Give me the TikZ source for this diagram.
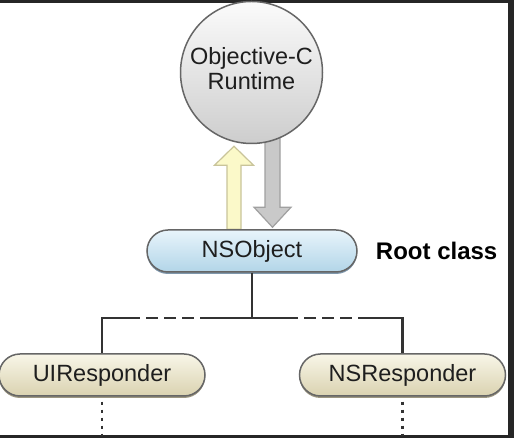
\documentclass[tikz,border=0pt]{standalone}
\usepackage{fontspec}
\setmainfont{Liberation Sans}
\usetikzlibrary{calc}
\usetikzlibrary{positioning, shapes.misc, backgrounds, shadows}

\definecolor{inkgray}{HTML}{1E1E1E}
\definecolor{edgegray}{HTML}{666666}
\definecolor{linkgray}{HTML}{333333}
\definecolor{skytop}{HTML}{E8F4FB}
\definecolor{skybottom}{HTML}{B2D5E8}
\definecolor{skyshadow}{HTML}{7E97AC}
\definecolor{sandtop}{HTML}{F8F6E8}
\definecolor{sandbottom}{HTML}{DAD2B0}
\definecolor{sandshadow}{HTML}{9C9680}
\definecolor{balltop}{HTML}{FBFBFB}
\definecolor{ballmid}{HTML}{ECECEC}
\definecolor{ballbottom}{HTML}{CDCDCD}
\definecolor{lemonfill}{HTML}{FBF9C9}
\definecolor{lemonedge}{HTML}{C9C49A}
\definecolor{stonefill}{HTML}{C9C9C9}
\definecolor{stoneedge}{HTML}{A0A0A0}

\begin{document}
\begin{tikzpicture}[
  x=1pt, y=1pt,
  font=\fontsize{23.5}{25}\selectfont,
  runtime/.style={draw=edgegray, line width=1.5pt, circle, minimum size=142pt, inner sep=0pt, align=center, text=inkgray, top color=balltop, middle color=ballmid, bottom color=ballbottom},
  classbox/.style={draw=edgegray, line width=1.5pt, rounded rectangle, minimum height=42pt, inner sep=0pt, text=inkgray},
  link/.style={draw=linkgray, line width=2.2pt},
  gapline/.style={draw=linkgray, line width=2.2pt, dash pattern=on 12pt off 6pt},
  trail/.style={draw=linkgray, line width=2.5pt, dash pattern=on 3pt off 5pt},
  uparrow/.style={draw=lemonedge, fill=lemonfill, line width=1.2pt, line join=miter},
  downarrow/.style={draw=stoneedge, fill=stonefill, line width=1.2pt, line join=miter}
]
\useasboundingbox (0,0) rectangle (514,438);

\node[runtime] (runtime) at (251.5,365.5) {\raisebox{-4pt}{\begin{tabular}{@{}c@{}}Objective-C\\Runtime\end{tabular}}};
\node[classbox, minimum width=210pt, top color=skytop, bottom color=skybottom, drop shadow={shadow xshift=0pt, shadow yshift=-2pt, fill=skyshadow, opacity=1}] (nsobject) at (252,187) {NSObject};
\node[right=18pt of nsobject, inner sep=0pt, font=\fontsize{24}{25}\selectfont\bfseries, text=black] (rootlabel) {Root class};
\node[classbox, minimum width=206pt, top color=sandtop, bottom color=sandbottom, drop shadow={shadow xshift=0pt, shadow yshift=-2pt, fill=sandshadow, opacity=1}] (uiresponder) at (102,63) {UIResponder};
\node[classbox, minimum width=206pt, right=93pt of uiresponder, top color=sandtop, bottom color=sandbottom, drop shadow={shadow xshift=0pt, shadow yshift=-2pt, fill=sandshadow, opacity=1}] (nsresponder) {NSResponder};

\begin{scope}[on background layer]
  \fill[black!85] (0,0) rectangle (514,438);
  \fill[white] (0,3) rectangle (508,435);
  % messages between runtime and root class
  \draw[uparrow] ($(nsobject.north)+(-25,0)$) -- ++(0,64) -- ++(-12.5,0) -- ++(19.5,19) -- ++(19.5,-19) -- ++(-12.5,0) -- ++(0,-64) -- cycle;
  \draw[downarrow] ($(nsobject.north)+(13,92)$) -- ++(0,-70) -- ++(-11,0) -- ++(18.5,-20) -- ++(18.5,20) -- ++(-11,0) -- ++(0,70) -- cycle;
\end{scope}

\coordinate (bus) at ($(nsobject.south)+(0,-45)$);
\coordinate (leftend) at (uiresponder.north |- bus);
\coordinate (rightend) at (nsresponder.north |- bus);

\draw[link] (nsobject.south) -- (bus);
\draw[link] (uiresponder.north) -- (leftend) -- ++(38,0) coordinate (lgap);
\draw[gapline] ($(lgap)+(6,0)$) -- ++(60,0) coordinate (lgapend);
\draw[link] (lgapend) -- (bus) -- ++(46,0) coordinate (rgap);
\draw[gapline] ($(rgap)+(6,0)$) -- ++(54,0) coordinate (rgapend);
\draw[link] (rgapend) -- (rightend) -- (nsresponder.north);

\coordinate (uitail) at ($(uiresponder.south)+(0,-39)$);
\coordinate (nstail) at ($(nsresponder.south)+(0,-39)$);
\draw[trail] (uiresponder.south) ++(0,-5) -- (uitail);
\draw[trail] (nsresponder.south) ++(0,-5) -- (nstail);

\end{tikzpicture}
\end{document}
